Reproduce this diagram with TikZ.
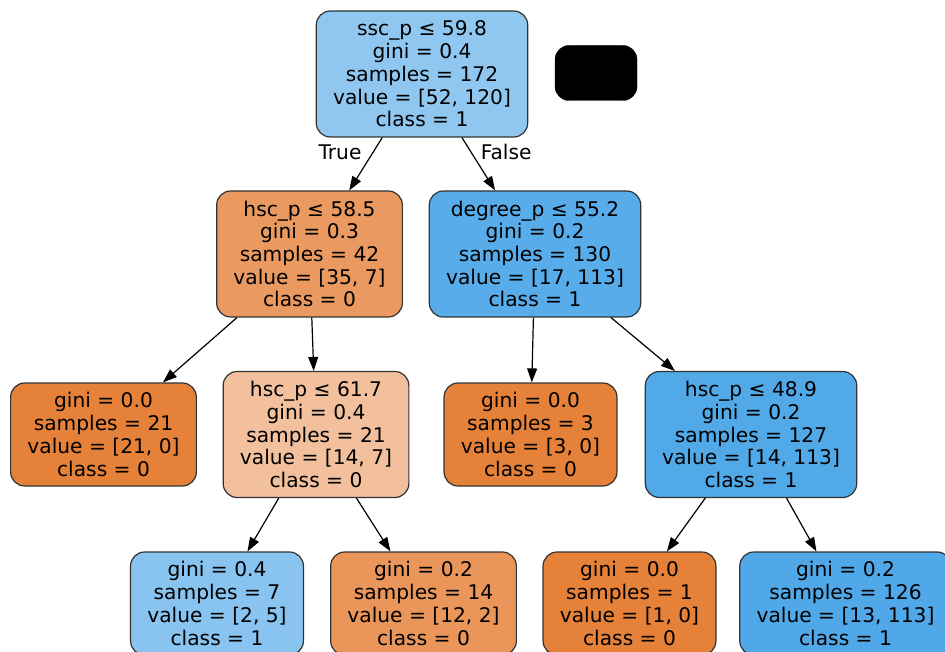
\documentclass[tikz,border=0pt]{standalone}
\usepackage{fontspec}
\setmainfont{DejaVu Sans}
\usetikzlibrary{arrows.meta}

\definecolor{cls0}{RGB}{229,129,57}
\definecolor{cls1}{RGB}{57,157,229}
\definecolor{rootc}{RGB}{143,199,240}
\definecolor{hscAc}{RGB}{234,154,96}
\definecolor{degc}{RGB}{87,172,233}
\definecolor{hscBc}{RGB}{242,192,156}
\definecolor{hscCc}{RGB}{81,169,232}
\definecolor{leafAc}{RGB}{136,196,239}
\definecolor{leafBc}{RGB}{234,150,90}
\definecolor{leafDc}{RGB}{80,168,232}

\tikzset{
  treenode/.style={draw=black!80, line width=1.2pt, rounded corners=14pt,
    align=center, inner xsep=16.8pt, inner ysep=0pt,
    font=\fontsize{20.2}{22.7}\selectfont},
  split/.style={treenode, minimum height=126pt},
  leaf/.style={treenode, minimum height=103pt},
  edge/.style={line width=1.2pt, -{Triangle[length=14pt,width=10pt]}},
  edgelabel/.style={inner sep=2pt, font=\fontsize{20.2}{22.7}\selectfont}
}

\begin{document}
\begin{tikzpicture}[x=1pt, y=-1pt]
  \clip (0,0) rectangle (945,652);
  \fill[white] (0,0) rectangle (945,652);

  % level 0
  \node (root) at (422,74) [split, fill=rootc]
    {ssc\_p ≤ 59.8\\gini = 0.4\\samples = 172\\value = [52, 120]\\class = 1};
  \node (blank) at (596,73) [draw=black, fill=black, rounded corners=14pt,
    minimum width=82pt, minimum height=55pt] {};

  % level 1
  \node (hscA) at (309.5,254) [split, fill=hscAc]
    {hsc\_p ≤ 58.5\\gini = 0.3\\samples = 42\\value = [35, 7]\\class = 0};
  \node (deg) at (535,254) [split, fill=degc]
    {degree\_p ≤ 55.2\\gini = 0.2\\samples = 130\\value = [17, 113]\\class = 1};

  % level 2
  \node (leafA) at (103.5,434.5) [leaf, fill=cls0]
    {gini = 0.0\\samples = 21\\value = [21, 0]\\class = 0};
  \node (hscB) at (316,434.5) [split, fill=hscBc]
    {hsc\_p ≤ 61.7\\gini = 0.4\\samples = 21\\value = [14, 7]\\class = 0};
  \node (leafB) at (530.5,434.5) [leaf, fill=cls0]
    {gini = 0.0\\samples = 3\\value = [3, 0]\\class = 0};
  \node (hscC) at (751,434.5) [split, fill=hscCc]
    {hsc\_p ≤ 48.9\\gini = 0.2\\samples = 127\\value = [14, 113]\\class = 1};

  % level 3
  \node (leafC) at (217,603.5) [leaf, fill=leafAc]
    {gini = 0.4\\samples = 7\\value = [2, 5]\\class = 1};
  \node (leafD) at (423.5,603.5) [leaf, fill=leafBc]
    {gini = 0.2\\samples = 14\\value = [12, 2]\\class = 0};
  \node (leafE) at (629.5,603.5) [leaf, fill=cls0]
    {gini = 0.0\\samples = 1\\value = [1, 0]\\class = 0};
  \node (leafF) at (845.5,603.5) [leaf, fill=leafDc]
    {gini = 0.2\\samples = 126\\value = [13, 113]\\class = 1};

  % edges
  \draw[edge] (root) -- (hscA) node[edgelabel, pos=0.28, left=9pt] {True};
  \draw[edge] (root) -- (deg) node[edgelabel, pos=0.28, right=7pt] {False};
  \draw[edge] (hscA) -- (leafA);
  \draw[edge] (hscA) -- (hscB);
  \draw[edge] (deg) -- (leafB);
  \draw[edge] (deg) -- (hscC);
  \draw[edge] (hscB) -- (leafC);
  \draw[edge] (hscB) -- (leafD);
  \draw[edge] (hscC) -- (leafE);
  \draw[edge] (hscC) -- (leafF);
\end{tikzpicture}
\end{document}
